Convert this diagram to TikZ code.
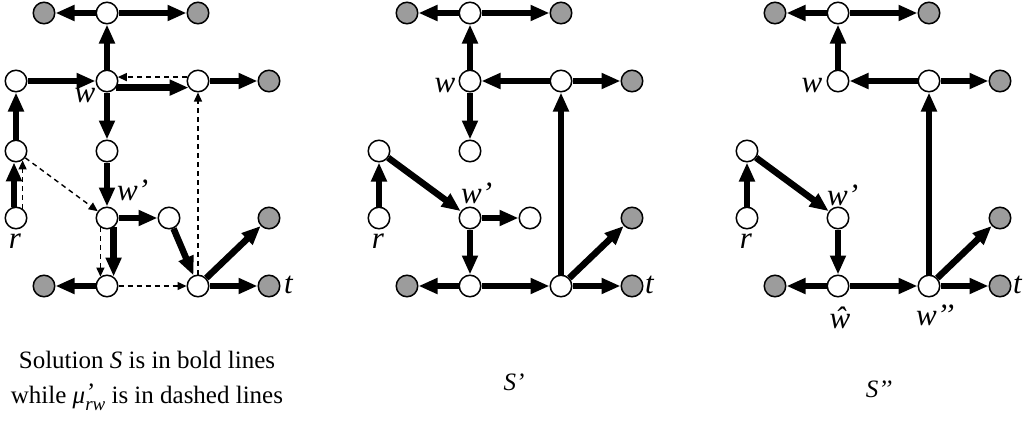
\documentclass[tikz,border=0pt]{standalone}
\usepackage{fontspec}
\setmainfont{Liberation Serif}
\usetikzlibrary{arrows.meta}
\pgfdeclarelayer{bg}
\pgfsetlayers{bg,main}
\begin{document}
\begin{tikzpicture}[x=1pt,y=-1pt,
 wn/.style={circle,draw,line width=1.5pt,fill=white,minimum size=21.5pt,inner sep=0pt},
 gn/.style={wn,fill=gray!78},
 bold/.style={line width=6.5pt,-{Triangle[length=19pt,width=15pt]}},
 dsh/.style={line width=1.4pt,dash pattern=on 5pt off 4pt,-{Triangle[length=9pt,width=8pt]}},
 lbl/.style={font=\fontsize{31}{31}\selectfont\itshape,inner sep=0pt},
 captxt/.style={font=\fontsize{25}{30}\selectfont,inner sep=0pt}]
\useasboundingbox (0,0) rectangle (1025,421);

% ---------------- Panel 1 ----------------
\node[gn] (a-tl) at (44,13) {};
\node[wn] (a-top) at (107,13) {};
\node[gn] (a-tr) at (198,13) {};
\node[wn] (a-l1) at (16,81) {};
\node[wn] (a-w) at (107,81) {};
\node[wn] (a-x) at (198,81) {};
\node[gn] (a-xr) at (269,81) {};
\node[wn] (a-l3) at (16,151) {};
\node[wn] (a-m3) at (107,151) {};
\node[wn] (a-r) at (16,218) {};
\node[wn] (a-wp) at (107,218) {};
\node[wn] (a-m4) at (169,218) {};
\node[gn] (a-g4) at (269,218) {};
\node[gn] (a-bl) at (44,286) {};
\node[wn] (a-b) at (107,286) {};
\node[wn] (a-c) at (198,286) {};
\node[gn] (a-t) at (269,286) {};
\begin{pgfonlayer}{bg}
\draw[bold] (a-top) -- (a-tl);
\draw[bold] (a-top) -- (a-tr);
\draw[bold] (a-w) -- (a-top);
\draw[bold] (a-l1) -- (a-w);
\draw[bold] (a-w.-35) -- (a-x.-145);
\draw[dsh] (a-x.160) -- (a-w.20);
\draw[bold] (a-x) -- (a-xr);
\draw[bold] (a-w) -- (a-m3);
\draw[bold] (a-m3) -- (a-wp);
\draw[bold] (a-l3) -- (a-l1);
\draw[bold] (a-r.100) -- (a-l3.-100);
\draw[dsh] (a-r.55) -- (a-l3.-55);
\draw[dsh] (a-l3) -- (a-wp);
\draw[bold] (a-wp) -- (a-m4);
\draw[bold] (a-m4) -- (a-c);
\draw[bold] (a-wp.-55) -- (a-b.55);
\draw[dsh] (a-wp.-125) -- (a-b.125);
\draw[bold] (a-b) -- (a-bl);
\draw[dsh] (a-b) -- (a-c);
\draw[dsh] (a-c) -- (a-x);
\draw[bold] (a-c) -- (a-g4);
\draw[bold] (a-c) -- (a-t);
\end{pgfonlayer}
\node[lbl,anchor=base] (a-lw) at (85,102) {w};
\node[lbl,anchor=base west] (a-lwp) at (117,200) {w’};
\node[lbl,anchor=base] (a-lr) at (15,248) {r};
\node[lbl,anchor=base west] (a-lt) at (284,293) {t};

% ---------------- Panel 2 ----------------
\begin{scope}[xshift=363pt]
\node[gn] (b-tl) at (44,13) {};
\node[wn] (b-top) at (107,13) {};
\node[gn] (b-tr) at (198,13) {};
\node[wn] (b-w) at (107,81) {};
\node[wn] (b-x) at (198,81) {};
\node[gn] (b-xr) at (269,81) {};
\node[wn] (b-l3) at (16,151) {};
\node[wn] (b-m3) at (107,151) {};
\node[wn] (b-r) at (16,218) {};
\node[wn] (b-wp) at (107,218) {};
\node[wn] (b-m4) at (167,218) {};
\node[gn] (b-g4) at (269,218) {};
\node[gn] (b-bl) at (44,286) {};
\node[wn] (b-b) at (107,286) {};
\node[wn] (b-c) at (198,286) {};
\node[gn] (b-t) at (269,286) {};
\begin{pgfonlayer}{bg}
\draw[bold] (b-top) -- (b-tl);
\draw[bold] (b-top) -- (b-tr);
\draw[bold] (b-w) -- (b-top);
\draw[bold] (b-x) -- (b-w);
\draw[bold] (b-x) -- (b-xr);
\draw[bold] (b-w) -- (b-m3);
\draw[bold] (b-r) -- (b-l3);
\draw[bold] (b-l3) -- (b-wp);
\draw[bold] (b-wp) -- (b-m4);
\draw[bold] (b-wp) -- (b-b);
\draw[bold] (b-b) -- (b-bl);
\draw[bold] (b-b) -- (b-c);
\draw[bold] (b-c) -- (b-x);
\draw[bold] (b-c) -- (b-g4);
\draw[bold] (b-c) -- (b-t);
\end{pgfonlayer}
\node[lbl,anchor=base] (b-lw) at (82,92) {w};
\node[lbl,anchor=base west] (b-lwp) at (98,203) {w’};
\node[lbl,anchor=base] (b-lr) at (15,248) {r};
\node[lbl,anchor=base west] (b-lt) at (282,293) {t};
\end{scope}

% ---------------- Panel 3 ----------------
\begin{scope}[xshift=731pt]
\node[gn] (c-tl) at (44,13) {};
\node[wn] (c-top) at (107,13) {};
\node[gn] (c-tr) at (198,13) {};
\node[wn] (c-w) at (107,81) {};
\node[wn] (c-x) at (198,81) {};
\node[gn] (c-xr) at (269,81) {};
\node[wn] (c-l3) at (16,151) {};
\node[wn] (c-r) at (16,218) {};
\node[wn] (c-wp) at (107,218) {};
\node[gn] (c-g4) at (269,218) {};
\node[gn] (c-bl) at (44,286) {};
\node[wn] (c-b) at (107,286) {};
\node[wn] (c-c) at (198,286) {};
\node[gn] (c-t) at (269,286) {};
\begin{pgfonlayer}{bg}
\draw[bold] (c-top) -- (c-tl);
\draw[bold] (c-top) -- (c-tr);
\draw[bold] (c-w) -- (c-top);
\draw[bold] (c-x) -- (c-w);
\draw[bold] (c-x) -- (c-xr);
\draw[bold] (c-r) -- (c-l3);
\draw[bold] (c-l3) -- (c-wp);
\draw[bold] (c-wp) -- (c-b);
\draw[bold] (c-b) -- (c-bl);
\draw[bold] (c-b) -- (c-c);
\draw[bold] (c-c) -- (c-x);
\draw[bold] (c-c) -- (c-g4);
\draw[bold] (c-c) -- (c-t);
\end{pgfonlayer}
\node[lbl,anchor=base] (c-lw) at (81,92) {w};
\node[lbl,anchor=base west] (c-lwp) at (96,205) {w’};
\node[lbl,anchor=base] (c-lr) at (15,248) {r};
\node[lbl,anchor=base west] (c-lt) at (282,293) {t};
\node[lbl,anchor=base] (c-lwh) at (109,328) {ŵ};
\node[lbl,anchor=base west] (c-lwpp) at (185,325) {w’’};
\end{scope}

% ---------------- Captions ----------------
\node[captxt,anchor=base] (cap1) at (147,368) {Solution \textit{S} is in bold lines};
\node[captxt,anchor=base] (cap2) at (147,403) {while \textit{μ}\rlap{\raisebox{0.12em}{\textit{’}}}\raisebox{-0.3em}{\fontsize{19}{19}\selectfont\textit{rw}} is in dashed lines};
\node[captxt,anchor=base] (cap3) at (514,390) {\textit{S’}};
\node[captxt,anchor=base] (cap4) at (879,397) {\textit{S’’}};
\end{tikzpicture}
\end{document}
